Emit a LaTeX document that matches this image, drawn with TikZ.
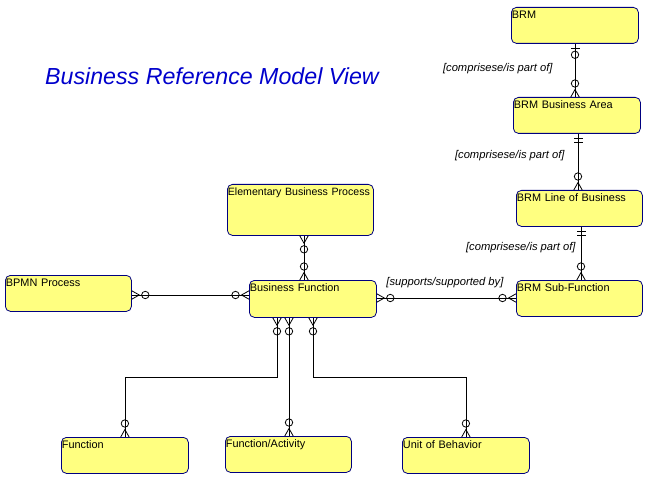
\documentclass[tikz,border=0pt]{standalone}
\usepackage{fontspec}
\setmainfont{Liberation Sans}
\usetikzlibrary{calc}
\definecolor{boxfill}{RGB}{255,255,128}
\definecolor{boxline}{RGB}{0,0,128}
\definecolor{titleblue}{RGB}{0,0,204}
\begin{document}
\begin{tikzpicture}[x=1pt,y=1pt,line width=0.8pt,
  box/.style={draw=boxline, fill=boxfill, rounded corners=5pt, anchor=north west,
    inner xsep=0.5pt, inner ysep=0pt, align=left,
    font=\fontsize{10.9}{12}\selectfont, text height=11pt},
  rel/.style={font=\fontsize{11.2}{13}\selectfont\itshape, inner sep=0pt},
  zmany/.pic={\draw (0,4.2) -- (7.5,0) -- (0,-4.2); \draw (0,0) -- (7.5,0);
              \draw (13.5,0) circle (3.7);},
  zone/.pic={\draw (5,4.5) -- (5,-4.5); \draw (11,0) circle (3.7);},
  oneone/.pic={\draw (4.5,4.5) -- (4.5,-4.5); \draw (8.5,4.5) -- (8.5,-4.5);}
]
\useasboundingbox (0,0) rectangle (660,-478);

% title
\node[font=\fontsize{23.2}{27}\selectfont\itshape, text=titleblue, inner sep=0pt] (title) at (212,-76) {Business Reference Model View};

% boxes
\node[box, text width=126pt, text depth=25pt] (brm)  at (511,-7)   {BRM};
\node[box, text width=126pt, text depth=25pt] (area) at (513,-97)  {BRM Business Area};
\node[box, text width=125pt, text depth=25pt] (lob)  at (516,-190) {BRM Line of Business};
\node[box, text width=125pt, text depth=25pt] (sub)  at (516,-280) {BRM Sub-Function};
\node[box, text width=145pt, text depth=40pt, font=\fontsize{10.6}{12}\selectfont] (ebp)  at (227,-184) {\mbox{Elementary Business Process}};
\node[box, text width=125pt, text depth=25pt] (bpmn) at (5,-275)   {BPMN Process};
\node[box, text width=126pt, text depth=26pt] (bf)   at (249,-280) {Business Function};
\node[box, text width=126pt, text depth=25pt] (func) at (61,-437)  {Function};
\node[box, text width=125pt, text depth=25pt] (fa)   at (225,-436) {Function/Activity};
\node[box, text width=126pt, text depth=25pt] (uob)  at (402,-437) {Unit of Behavior};

% relation labels
\node[rel, anchor=east] (l1) at (553,-69)  {[comprisese/is part of]};
\node[rel, anchor=east] (l2) at (565,-156) {[comprisese/is part of]};
\node[rel, anchor=east] (l3) at (576,-248) {[comprisese/is part of]};
\node[rel, anchor=west] (l4) at (386,-283) {[supports/supported by]};

% BRM -> Area
\coordinate (c1) at ($(brm.south west)+(64,0)$);
\draw (c1) -- (c1 |- area.north);
\pic[rotate=-90] at (c1) {zone};
\pic[rotate=90] at (c1 |- area.north) {zmany};

% Area -> LoB
\coordinate (c2) at ($(area.south west)+(65,0)$);
\draw (c2) -- (c2 |- lob.north);
\pic[rotate=-90] at (c2) {oneone};
\pic[rotate=90] at (c2 |- lob.north) {zmany};

% LoB -> Sub
\coordinate (c3) at ($(lob.south west)+(65,0)$);
\draw (c3) -- (c3 |- sub.north);
\pic[rotate=-90] at (c3) {oneone};
\pic[rotate=90] at (c3 |- sub.north) {zmany};

% EBP -> BF
\coordinate (c4) at ($(ebp.south west)+(77,0)$);
\draw (c4) -- (c4 |- bf.north);
\pic[rotate=-90] at (c4) {zmany};
\pic[rotate=90] at (c4 |- bf.north) {zmany};

% BPMN -> BF
\coordinate (c5) at ($(bpmn.north east)+(0,-20)$);
\draw (c5) -- (c5 -| bf.west);
\pic at (c5) {zmany};
\pic[rotate=180] at (c5 -| bf.west) {zmany};

% BF -> Sub
\coordinate (c6) at ($(bf.north east)+(0,-18)$);
\draw (c6) -- (c6 -| sub.west);
\pic at (c6) {zmany};
\pic[rotate=180] at (c6 -| sub.west) {zmany};

% BF -> bottom boxes
\coordinate (elb) at (0,-377);
\coordinate (b1) at ($(bf.south west)+(28,0)$);
\coordinate (b2) at ($(bf.south west)+(40,0)$);
\coordinate (b3) at ($(bf.south west)+(64,0)$);
\draw (b1) -- (b1 |- elb) -| (func.north);
\draw (b2) -- (b2 |- fa.north);
\draw (b3) -- (b3 |- elb) -| (uob.north);
\pic[rotate=-90] at (b1) {zmany};
\pic[rotate=-90] at (b2) {zmany};
\pic[rotate=-90] at (b3) {zmany};
\pic[rotate=90] at (func.north) {zmany};
\pic[rotate=90] at (b2 |- fa.north) {zmany};
\pic[rotate=90] at (uob.north) {zmany};
\end{tikzpicture}
\end{document}
